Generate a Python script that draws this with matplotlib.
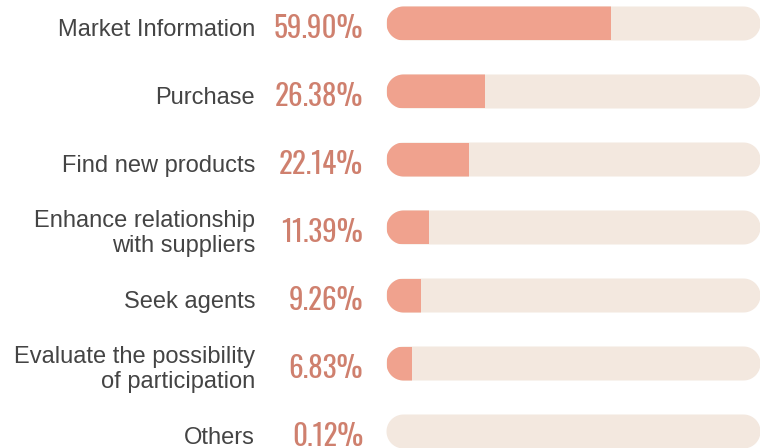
import numpy as np
import matplotlib
matplotlib.use("Agg")
import matplotlib.pyplot as plt
from matplotlib.patches import PathPatch, Rectangle
from matplotlib.path import Path

categories = ["Market Information", "Purchase", "Find new products",
              "Enhance relationship\nwith suppliers", "Seek agents",
              "Evaluate the possibility\nof participation", "Others"]
values = [59.90, 26.38, 22.14, 11.39, 9.26, 6.83, 0.12]
value_labels = ["59.90%", "26.38%", "22.14%", "11.39%", "9.26%", "6.83%", "0.12%"]

W, H = 760, 448
fig = plt.figure(figsize=(W / 100, H / 100), dpi=100)
fig.patch.set_facecolor("white")

bar_left_px, bar_w_px = 386.5, 374.0
first_center_px, step_px = 23.5, 68.0
ax = fig.add_axes([bar_left_px / W, 0, bar_w_px / W, 1])
ax.set_xlim(0, 100)
ax.set_ylim((H - first_center_px) / step_px, -first_center_px / step_px)
ax.axis("off")

x_per_px = 100 / bar_w_px
y_per_px = 1 / step_px
half_h = 17 * y_per_px
rx = 17 * x_per_px


def pill(x0, x1, yc):
    t1 = np.linspace(np.pi / 2, 3 * np.pi / 2, 40)
    t2 = np.linspace(-np.pi / 2, np.pi / 2, 40)
    left = np.column_stack([x0 + rx + rx * np.cos(t1), yc + half_h * np.sin(t1)])
    right = np.column_stack([x1 - rx + rx * np.cos(t2), yc + half_h * np.sin(t2)])
    verts = np.vstack([left, right, left[:1]])
    codes = [Path.MOVETO] + [Path.LINETO] * (len(verts) - 2) + [Path.CLOSEPOLY]
    return Path(verts, codes)


bg_col = "#F3E8DF"
fg_col = "#F0A28E"
pct_col = "#CF806E"
lab_col = "#444444"

for i, (cat, v, lab) in enumerate(zip(categories, values, value_labels)):
    bg = PathPatch(pill(0, 100, i), facecolor=bg_col, edgecolor="none", clip_on=False)
    ax.add_patch(bg)
    fg = Rectangle((0, i - half_h), v, 2 * half_h, facecolor=fg_col, edgecolor="none")
    ax.add_patch(fg)
    fg.set_clip_path(bg)

    ax.annotate(lab, xy=(0, i), xytext=(-23.5, -14.5), textcoords="offset pixels",
                ha="right", va="baseline", color=pct_col, fontsize=21,
                fontweight="medium", family=["Oswald", "DejaVu Sans"])
    ax.annotate(cat, xy=(0, i), xytext=(-131.5, -6), textcoords="offset pixels",
                ha="right", va="center", color=lab_col, fontsize=17,
                family=["Liberation Sans", "DejaVu Sans"], linespacing=1.2)

fig.savefig("out.png", dpi=100, facecolor="white")
